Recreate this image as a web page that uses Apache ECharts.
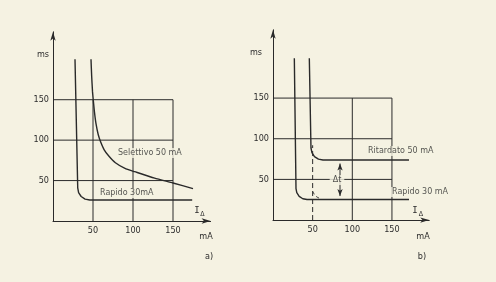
<!DOCTYPE html>
<html><head><meta charset="utf-8">
<script src="https://cdn.jsdelivr.net/npm/echarts@6/dist/echarts.min.js"></script>
<style>html,body{margin:0;padding:0;background:#f5f2e2}#c{width:496px;height:282px}</style>
</head><body><div id="c"></div>
<script>
// ---- data ----
const tickLabels = [50, 100, 150];        // mA and ms tick labels
const gridExtent = 150;                    // grid box extent (both axes)
const xMax = 197, yMax = 234;
// chart a)
const aRapido    = [[27.5,200],[30.9,41],[32,35],[35.2,30.3],[40.1,27.1],[45.9,26],[174,26]];
const aSelettivo = [[47.5,200],[48.3,180],[49.4,160],[50.3,150],[51.8,135],[53.8,120],[56.5,107],[59.5,98],[64,88],[70,80],[78,72],[90,65],[102,61],[127,53],[150,47],[175,40]];
// chart b)
const bRapido    = [[26.9,199],[29,38.7],[30,33.6],[33,29.2],[37.6,26.2],[42.9,25.2],[171.5,25.2]];
const bRitardato = [[45.8,199],[47.9,88.6],[49.1,82.9],[52.3,78.1],[57.3,74.9],[63,73.8],[171.5,73.8]];
const bRitardatoShift = [[50.4,35],[52.5,31],[56,28],[61,26]];
const bDashedGrid = [[50,0],[50,92]];
const bDeltaT = [[84.5,69.5],[84.5,29.5]];
// text annotations [x, y, text]
const aLabels = [[80,84,'Selettivo 50 mA'],[57.5,34.6,'Rapido 30mA']];
const bLabels = [[118.5,84.9,'Ritardato 50 mA'],[148.8,34.4,'Rapido 30 mA']];
const bDeltaLabel = [80.7,49.2,'Δt'];

// ---- styling ----
const BG = '#f5f2e2', INK = '#2a2a2a', TXT = '#2c2c2c';
const FONT = "'DejaVu Sans Condensed','DejaVu Sans',sans-serif";
const LFONT = "'DejaVu Sans',sans-serif";

function axisX(gi){
  return {gridIndex:gi,type:'value',min:0,max:xMax,interval:50,
    axisLine:{show:true,onZero:false,symbol:['none','arrow'],symbolSize:[4,9],lineStyle:{color:INK,width:1}},
    axisTick:{show:false},splitLine:{show:false},
    axisLabel:{color:TXT,fontFamily:FONT,fontSize:9,margin:5,showMaxLabel:true,
      formatter:v=>tickLabels.indexOf(v)>=0?String(v):''}};
}
function axisY(gi){
  return {gridIndex:gi,type:'value',min:0,max:yMax,interval:50,
    axisLine:{show:true,onZero:false,symbol:['none','arrow'],symbolSize:[4,9],lineStyle:{color:INK,width:1}},
    axisTick:{show:false},splitLine:{show:false},
    axisLabel:{color:TXT,fontFamily:FONT,fontSize:9,margin:4,showMaxLabel:false,
      formatter:v=>tickLabels.indexOf(v)>=0?String(v):''}};
}
function seg(gi,data,opt){
  opt=opt||{};
  return {type:'line',xAxisIndex:gi,yAxisIndex:gi,data:data,symbol:'none',silent:true,animation:false,
    smooth:opt.smooth||false,z:opt.z||2,
    lineStyle:{color:INK,width:opt.width||1,type:opt.type||'solid'}};
}
function gridLines(gi,skipVertical){
  const out=[];
  tickLabels.forEach(t=>{
    out.push(seg(gi,[[0,t],[gridExtent,t]],{width:1}));
    if(!(skipVertical&&skipVertical.indexOf(t)>=0)) out.push(seg(gi,[[t,0],[t,gridExtent]],{width:1}));
  });
  return out;
}
function textSeries(gi,items,align){
  return {type:'scatter',xAxisIndex:gi,yAxisIndex:gi,symbolSize:0,silent:true,animation:false,z:6,
    data:items.map(d=>({value:[d[0],d[1]],label:{formatter:d[2]}})),
    label:{show:true,position:align==='center'?'inside':'right',distance:0,color:TXT,fontFamily:LFONT,fontSize:8,
      backgroundColor:BG,padding:align==='center'?[1,3]:[1,1]}};
}

const series=[].concat(
  gridLines(0),
  [seg(0,aRapido,{width:1.4}), seg(0,aSelettivo,{width:1.4,smooth:0.2})],
  [textSeries(0,aLabels)],
  gridLines(1,[50]),
  [seg(1,bDashedGrid,{type:[5,3]}),
   seg(1,bRapido,{width:1.4}), seg(1,bRitardato,{width:1.4}),
   seg(1,bRitardatoShift,{type:[3,3],smooth:0.4}),
   {type:'line',xAxisIndex:1,yAxisIndex:1,silent:true,animation:false,z:3,
    data:[{value:bDeltaT[0],symbolRotate:0},{value:bDeltaT[1],symbolRotate:180}],
    symbol:'arrow',symbolSize:[4,7],itemStyle:{color:INK},lineStyle:{color:INK,width:1}}],
  [textSeries(1,bLabels), textSeries(1,[bDeltaLabel],'center')]
);

function txt(x,y,s,size,fam){
  return {type:'text',x:x,y:y,silent:true,z:10,
    style:{text:s,fill:TXT,font:(size||9)+'px '+(fam||FONT),align:'center',verticalAlign:'middle'}};
}

const chart=echarts.init(document.getElementById('c'),null,{renderer:'canvas'});
chart.setOption({
  backgroundColor:BG,animation:false,
  grid:[
    {left:53,top:31.8,width:xMax*0.8,height:yMax*0.8085},
    {left:273,top:29.8,width:xMax*0.793,height:yMax*0.813}
  ],
  xAxis:[axisX(0),axisX(1)],
  yAxis:[axisY(0),axisY(1)],
  series:series,
  graphic:[
    txt(43,55,'ms'), txt(256,53,'ms'),
    txt(206,237,'mA'), txt(423,237,'mA'),
    txt(197,210.5,'I',9,"'DejaVu Sans Mono'"), txt(202.5,214.5,'Δ',7),
    txt(415,210.5,'I',9,"'DejaVu Sans Mono'"), txt(421,214.5,'Δ',7),
    txt(209,257,'a)'), txt(422,257,'b)')
  ]
});
</script></body></html>
